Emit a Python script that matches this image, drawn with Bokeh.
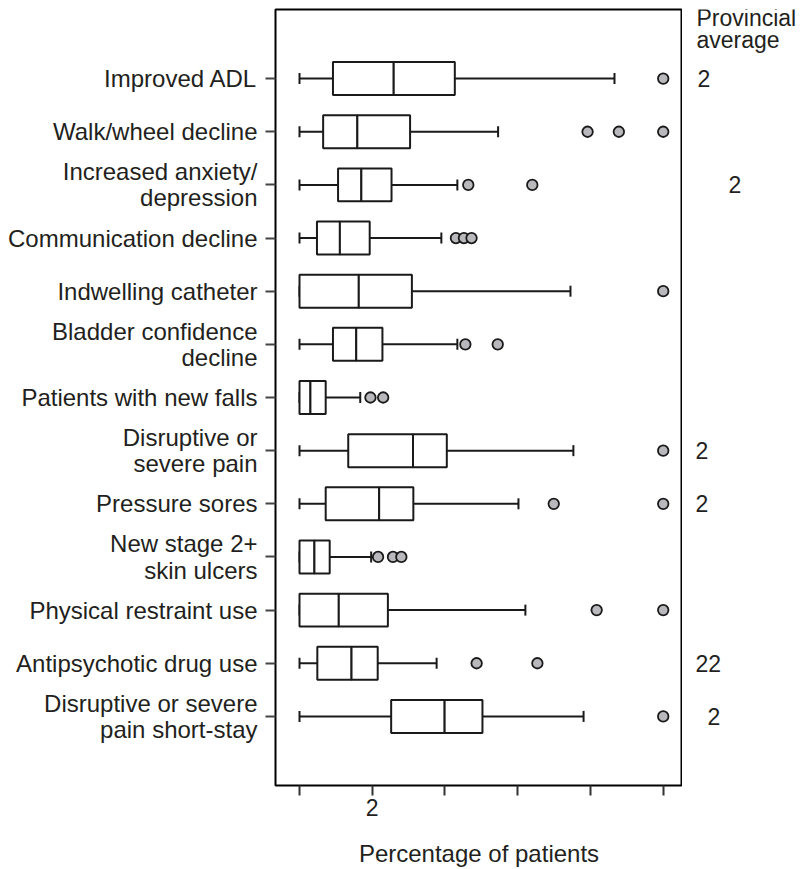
import math

from bokeh.core.properties import value
from bokeh.embed import file_html
from bokeh.layouts import row
from bokeh.models import ColumnDataSource, FactorRange, FixedTicker, Range1d
from bokeh.plotting import figure
from bokeh.resources import INLINE

# Quality indicators, top to bottom
categories = [
    "Improved ADL",
    "Walk/wheel decline",
    "Increased anxiety/\ndepression",
    "Communication decline",
    "Indwelling catheter",
    "Bladder confidence\ndecline",
    "Patients with new falls",
    "Disruptive or\nsevere pain",
    "Pressure sores",
    "New stage 2+\nskin ulcers",
    "Physical restraint use",
    "Antipsychotic drug use",
    "Disruptive or severe\npain short-stay",
]

# Box-plot statistics (percentage of patients)
whisker_low = [0, 0, 0, 0, 0, 0, 0, 0, 0, 0, 0, 0, 0]
q1 = [9.2, 6.5, 10.6, 4.8, 0, 9.2, 0, 13.4, 7.2, 0, 0, 4.9, 25.2]
median = [25.9, 15.9, 17.0, 11.1, 16.3, 15.6, 3.0, 31.2, 21.9, 4.1, 10.8, 14.3, 39.9]
q3 = [42.7, 30.4, 25.3, 19.3, 30.9, 22.8, 7.2, 40.5, 31.3, 8.3, 24.3, 21.5, 50.3]
whisker_high = [86.6, 54.6, 43.4, 39.0, 74.5, 43.4, 16.7, 75.3, 60.2, 19.7, 62.1, 37.7, 78.1]
outliers = [
    [100],
    [79.2, 87.8, 100],
    [46.4, 64.0],
    [43.0, 45.2, 47.3],
    [100],
    [45.6, 54.5],
    [19.5, 23.0],
    [100],
    [69.9, 100],
    [21.6, 25.7, 28.0],
    [81.7, 100],
    [48.7, 65.4],
    [100],
]

# Provincial average column shown right of the panel
provincial_average = ["2", "", "2", "", "", "", "", "2", "2", "", "", "22", "2"]

# Axis ticks
x_ticks = [0, 20, 40, 60, 80, 100]
x_tick_labels = ["", "2", "", "", "", ""]

FONT = "Liberation Sans"
LABEL_SIZE = "24px"
SIDE_SIZE = "23px"
TEXT = "#231f20"
INK = "#1a1a1a"

HEIGHT = 869
BORDER_TOP, BORDER_BOTTOM = 9, 84
X_START, X_END = -6.6, 105.3
PAD = 0.8  # empty space above first / below last row, in rows

y_range = FactorRange(
    factors=list(reversed(categories)),
    range_padding=PAD,
    range_padding_units="absolute",
)

p = figure(
    width=682,
    height=HEIGHT,
    x_range=Range1d(X_START, X_END),
    y_range=y_range,
    output_backend="svg",
    toolbar_location=None,
    min_border_left=275,
    min_border_right=0,
    min_border_top=BORDER_TOP,
    min_border_bottom=BORDER_BOTTOM,
    background_fill_color="white",
    border_fill_color="white",
    outline_line_color="black",
    outline_line_width=2,
)
p.xgrid.grid_line_color = None
p.ygrid.grid_line_color = None

src = ColumnDataSource(dict(
    cat=categories, lo=whisker_low, q1=q1, med=median, q3=q3, hi=whisker_high,
))

# whiskers
p.segment(x0="lo", y0="cat", x1="q1", y1="cat", source=src, line_color=INK, line_width=2)
p.segment(x0="q3", y0="cat", x1="hi", y1="cat", source=src, line_color=INK, line_width=2)
for col in ("lo", "hi"):
    p.scatter(x=col, y="cat", source=src, marker="dash", angle=math.pi / 2,
              size=11, line_color=INK, line_width=2)

# boxes split at the median
BOX_H = 0.62
p.hbar(y="cat", left="q1", right="med", height=BOX_H, source=src,
       fill_color="white", line_color=INK, line_width=2)
p.hbar(y="cat", left="med", right="q3", height=BOX_H, source=src,
       fill_color="white", line_color=INK, line_width=2)

# outliers
ox, oy = [], []
for cat, pts in zip(categories, outliers):
    for v in pts:
        ox.append(v)
        oy.append(cat)
p.scatter(x=ox, y=oy, marker="circle", size=10.5, fill_color="#b9b9bd",
          line_color=INK, line_width=1.8)

# x axis
xa = p.xaxis[0]
xa.ticker = FixedTicker(ticks=x_ticks)
xa.major_label_overrides = {t: s for t, s in zip(x_ticks, x_tick_labels)}
xa.minor_tick_line_color = None
xa.major_tick_in = 0
xa.major_tick_out = 10
xa.major_tick_line_width = 2
xa.major_tick_line_color = "#333333"
xa.axis_line_color = None
xa.major_label_standoff = 3
xa.major_label_text_font = FONT
xa.major_label_text_font_size = SIDE_SIZE
xa.major_label_text_color = TEXT
xa.axis_label = "Percentage of patients"
xa.axis_label_text_font = FONT
xa.axis_label_text_font_size = LABEL_SIZE
xa.axis_label_text_font_style = "normal"
xa.axis_label_text_color = TEXT
xa.axis_label_standoff = 21

# y axis
ya = p.yaxis[0]
ya.major_tick_in = 0
ya.major_tick_out = 10
ya.major_tick_line_width = 2
ya.major_tick_line_color = "#444444"
ya.axis_line_color = None
ya.major_label_standoff = 8
ya.major_label_text_font = FONT
ya.major_label_text_font_size = LABEL_SIZE
ya.major_label_text_color = TEXT
ya.major_label_text_line_height = 0.97

# side column with the provincial averages, sharing the row scale
SIDE_W = 119
side = figure(
    width=SIDE_W,
    height=HEIGHT,
    x_range=Range1d(0, SIDE_W),
    y_range=y_range,
    x_axis_type=None,
    y_axis_type=None,
    output_backend="svg",
    toolbar_location=None,
    min_border_left=0,
    min_border_right=0,
    min_border_top=BORDER_TOP,
    min_border_bottom=BORDER_BOTTOM,
    background_fill_color="white",
    border_fill_color="white",
    outline_line_color=None,
)

avg_offsets = [15, 0, 46, 0, 0, 0, 0, 13, 13, 0, 0, 13, 25]
rows = [i for i, t in enumerate(provincial_average) if t]
side.text(
    x=[avg_offsets[i] for i in rows],
    y=[categories[i] for i in rows],
    text=[provincial_average[i] for i in rows],
    text_align="left", text_baseline="middle",
    text_font=value(FONT), text_font_size=SIDE_SIZE, text_color=TEXT,
)

# column heading, placed in pixels below the top of the frame
n = len(categories)
px_per_row = (HEIGHT - BORDER_TOP - BORDER_BOTTOM) / (n + 2 * PAD)
top = n + PAD
side.text(
    x=[14, 14],
    y=[top - 8.5 / px_per_row, top - 30.5 / px_per_row],
    text=["Provincial", "average"],
    text_align="left", text_baseline="middle",
    text_font=value(FONT), text_font_size=SIDE_SIZE, text_color=TEXT,
)

layout = row(p, side)
open("out.html", "w").write(file_html(layout, INLINE))
